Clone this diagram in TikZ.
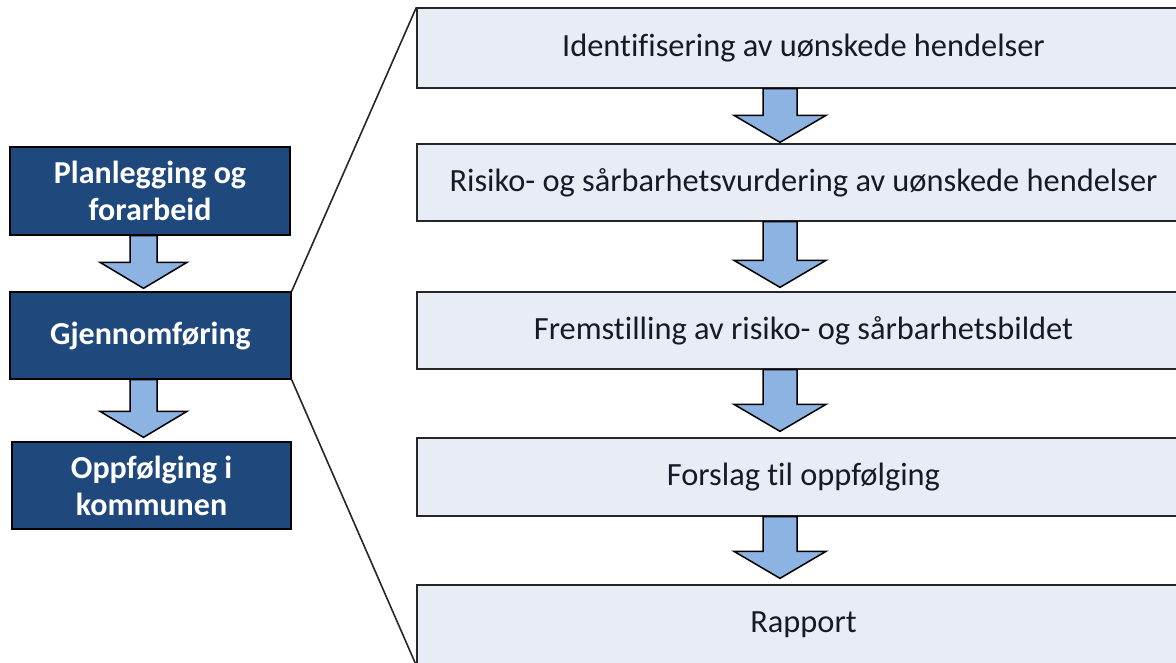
\documentclass[tikz,border=0pt]{standalone}
\usepackage{fontspec}
\setmainfont{Carlito}[Ligatures=NoCommon]
\usetikzlibrary{calc}
\definecolor{dblue}{HTML}{1F487C}
\definecolor{lblue}{HTML}{E8EDF5}
\definecolor{ablue}{HTML}{8DB3E2}
\definecolor{rtext}{HTML}{151A26}
% from node, to node, x reference coordinate, shaft half width, head half width, head height, gap
\newcommand\blockarrow[7]{%
  \draw[arr] let \p1=(#1.south -| #3), \p2=(#2.north -| #3) in
   (\x1-#4,\y1) -- (\x1-#4,\y2+#6+#7) -- (\x1-#5,\y2+#6+#7) -- (\x1,\y2+#7)
   -- (\x1+#5,\y2+#6+#7) -- (\x1+#4,\y2+#6+#7) -- (\x1+#4,\y1) -- cycle;}
\begin{document}
\begin{tikzpicture}[x=1pt,y=-1pt,
 lbox/.style={draw=black, line width=1.3pt, fill=dblue, text=white,
   font=\fontsize{32}{37}\selectfont\bfseries, align=center, inner sep=0pt},
 rbox/.style={draw=black!85, line width=1.3pt, fill=lblue, text=rtext,
   font=\fontsize{32.4}{38}\selectfont, inner sep=0pt, minimum width=773pt},
 arr/.style={draw=black, line width=1.5pt, fill=ablue, line join=miter},
 link/.style={draw=black!85, line width=1.6pt}]
\useasboundingbox (0,0) rectangle (1176,663);
% left column
\node[lbox, minimum width=280pt, minimum height=88pt] (l1) at (150,191) {Planlegging og\\forarbeid};
\node[lbox, minimum width=281pt, minimum height=87pt] (l2) at (150.5,335.5) {Gjennomføring};
\node[lbox, minimum width=279pt, minimum height=87pt] (l3) at (151.5,485.5) {Oppfølging i\\kommunen};
% right column
\node[rbox, minimum height=80pt] (r1) at (803.5,48) {Identifisering av uønskede hendelser};
\node[rbox, minimum height=77pt] (r2) at (803.5,182.5) {Risiko- og sårbarhetsvurdering av uønskede hendelser};
\node[rbox, minimum height=77pt] (r3) at (803.5,330.5) {Fremstilling av risiko- og sårbarhetsbildet};
\node[rbox, minimum height=78pt] (r4) at (803.5,477) {Forslag til oppfølging};
\node[rbox, minimum height=80pt] (r5) at (803.5,625) {Rapport};
% reference x positions for block arrows
\coordinate (ax) at (780,0);
\coordinate (bx) at (143.5,0);
% block arrows
\blockarrow{l1}{l2}{bx}{13.5pt}{43.5pt}{26pt}{3pt}
\blockarrow{l2}{l3}{bx}{13.5pt}{43.5pt}{26pt}{4pt}
\blockarrow{r1}{r2}{ax}{17pt}{46pt}{27pt}{1pt}
\blockarrow{r2}{r3}{ax}{17pt}{46pt}{27pt}{4pt}
\blockarrow{r3}{r4}{ax}{17pt}{46pt}{27pt}{6pt}
\blockarrow{r4}{r5}{ax}{17pt}{46pt}{27pt}{6pt}
% expansion lines
\draw[link] (l2.north east) -- (r1.north west);
\draw[link] (l2.south east) -- (r5.south west);
\end{tikzpicture}
\end{document}
